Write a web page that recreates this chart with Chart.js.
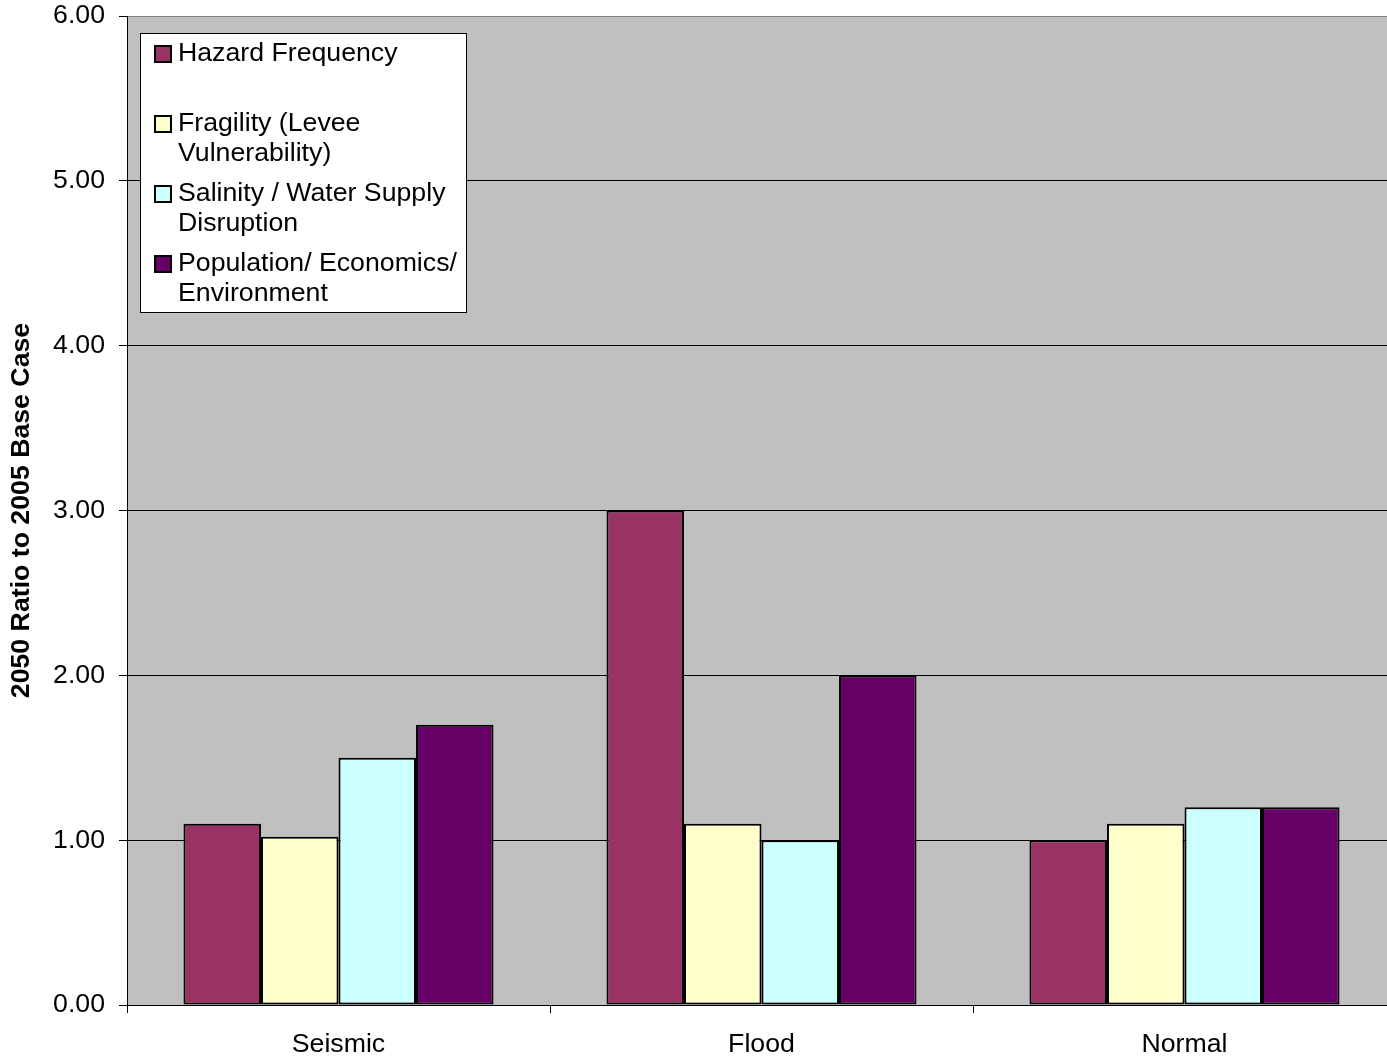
<!DOCTYPE html>
<html>
<head>
<meta charset="utf-8">
<script src="https://cdn.jsdelivr.net/npm/chart.js@4.4.1/dist/chart.umd.min.js"></script>
<style>
  html, body { margin: 0; background: #fff; overflow: hidden; }
  canvas { display: block; }
</style>
</head>
<body>
<canvas id="chart" width="1396" height="1061"></canvas>
<script>
'use strict';

const categories = ['Seismic', 'Flood', 'Normal'];
const seriesNames = [
  'Hazard Frequency',
  'Fragility (Levee Vulnerability)',
  'Salinity / Water Supply Disruption',
  'Population/ Economics/ Environment'
];
const hazardFrequency = [1.1, 3.0, 1.0];
const fragility = [1.02, 1.1, 1.1];
const salinity = [1.5, 1.0, 1.2];
const population = [1.7, 2.0, 1.2];
const seriesColors = ['#993366', '#FFFFCC', '#CCFFFF', '#660066'];
const yTicks = [0, 1, 2, 3, 4, 5, 6];

const FONT = 'Liberation Sans, Arial, sans-serif';
const FSIZE = 26.7;

// grey plot background
const plotBg = {
  id: 'plotBg',
  beforeDraw(chart) {
    const { ctx, chartArea: a } = chart;
    ctx.save();
    ctx.fillStyle = '#C0C0C0';
    ctx.fillRect(a.left, a.top, a.right - a.left, a.bottom - a.top);
    ctx.restore();
  }
};

// legend box drawn inside the plot, top-left
const boxLegend = {
  id: 'boxLegend',
  afterDraw(chart) {
    const { ctx, chartArea: a } = chart;
    const x = a.left + 13, y = a.top + 17, w = 327, h = 280;
    ctx.save();
    ctx.fillStyle = '#fff';
    ctx.fillRect(x, y, w, h);
    ctx.strokeStyle = '#000';
    ctx.lineWidth = 1;
    ctx.strokeRect(x + 0.5, y + 0.5, w - 1, h - 1);
    ctx.font = FSIZE + 'px ' + FONT;
    ctx.textBaseline = 'middle';
    chart.data.datasets.forEach((ds, i) => {
      const cy = y + 21 + i * 70;
      ctx.fillStyle = ds.backgroundColor;
      ctx.fillRect(x + 15, cy - 8, 16, 16);
      ctx.strokeStyle = '#000';
      ctx.lineWidth = 2;
      ctx.strokeRect(x + 15, cy - 8, 16, 16);
      // word wrap
      const words = ds.label.split(' ');
      const lines = [];
      let cur = '';
      words.forEach(wd => {
        const t = cur ? cur + ' ' + wd : wd;
        if (ctx.measureText(t).width > 288 && cur) {
          lines.push(cur);
          cur = wd;
        } else {
          cur = t;
        }
      });
      lines.push(cur);
      ctx.fillStyle = '#000';
      lines.forEach((ln, k) => ctx.fillText(ln, x + 38, cy + k * 30));
    });
    ctx.restore();
  }
};

const data = [hazardFrequency, fragility, salinity, population];

new Chart(document.getElementById('chart').getContext('2d'), {
  type: 'bar',
  data: {
    labels: categories,
    datasets: seriesNames.map((name, i) => ({
      label: name,
      data: data[i],
      backgroundColor: seriesColors[i],
      borderColor: '#000',
      borderWidth: 2,
      borderSkipped: false,
      categoryPercentage: 0.733,
      barPercentage: 1.0
    }))
  },
  options: {
    responsive: false,
    animation: false,
    layout: { padding: { top: 16, right: 0, left: 0, bottom: 0 } },
    plugins: {
      legend: { display: false },
      tooltip: { enabled: false }
    },
    scales: {
      x: {
        afterFit(scale) {
          scale.height = 56;
          scale.paddingLeft = 0;
          scale.paddingRight = 0;
        },
        grid: {
          offset: true,
          drawOnChartArea: false,
          tickLength: 8,
          color: '#000'
        },
        border: { color: '#000', width: 1 },
        ticks: {
          color: '#000',
          padding: 16,
          font: { family: FONT, size: FSIZE }
        }
      },
      y: {
        min: 0,
        max: 6,
        afterFit(scale) {
          scale.width = 127;
          scale.paddingTop = 0;
          scale.paddingBottom = 0;
        },
        afterBuildTicks(scale) { scale.ticks = yTicks.map(v => ({ value: v })); },
        grid: {
          color: ctx => ctx.tick && ctx.tick.value === 6 ? '#808080' : '#000',
          tickColor: '#000',
          tickLength: 8
        },
        border: { color: '#000', width: 1 },
        ticks: {
          color: '#000',
          padding: 14,
          font: { family: FONT, size: FSIZE },
          callback: v => Number(v).toFixed(2)
        },
        title: {
          display: true,
          text: '2050 Ratio to 2005 Base Case',
          color: '#000',
          padding: { top: 6, bottom: 0 },
          font: { family: FONT, size: FSIZE, weight: 'bold' }
        }
      }
    }
  },
  plugins: [plotBg, boxLegend]
});
</script>
</body>
</html>
